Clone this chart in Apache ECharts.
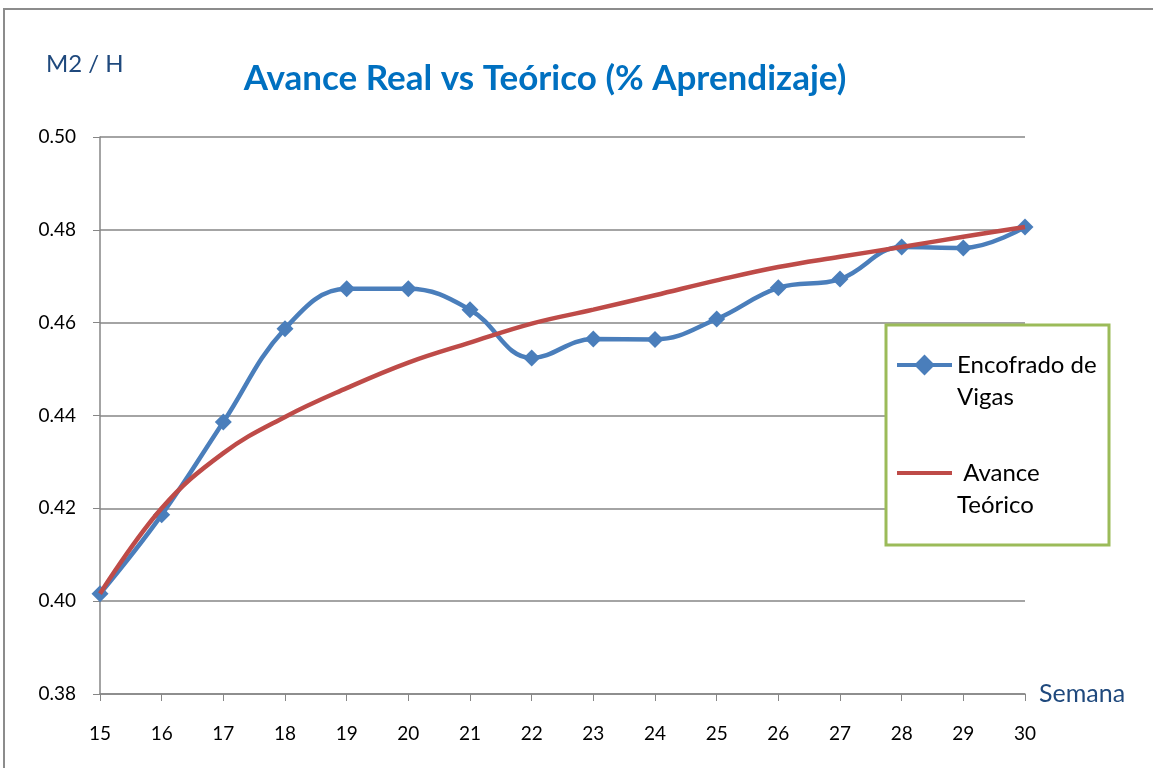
<!DOCTYPE html>
<html>
<head>
<meta charset="utf-8">
<script src="https://cdn.jsdelivr.net/npm/echarts@6/dist/echarts.min.js"></script>
<style>html,body{margin:0;padding:0;background:#fff;}#c{width:1153px;height:768px;}</style>
</head>
<body>
<div id="c"></div>
<script>
const weeks = ['15','16','17','18','19','20','21','22','23','24','25','26','27','28','29','30'];
const encofrado = [0.4016,0.4186,0.4386,0.4587,0.4673,0.4673,0.4628,0.4524,0.4565,0.4564,0.4608,0.4675,0.4694,0.4763,0.4761,0.4806];
const teorico = [0.4016,0.4200,0.4319,0.4397,0.4459,0.4514,0.4557,0.4598,0.4628,0.4659,0.4691,0.4720,0.4742,0.4763,0.4785,0.4806];
const yTicks = { min: 0.38, max: 0.50, step: 0.02 };
const titleText = 'Avance Real vs Teórico (% Aprendizaje)';
const yName = 'M2 / H';
const xName = 'Semana';
const seriesNames = ['Encofrado de Vigas', 'Avance Teórico'];
const legendLabels = ['Encofrado de\nVigas', ' Avance\nTeórico'];

const FONT = 'Lato';
const chart = echarts.init(document.getElementById('c'), null, { renderer: 'canvas' });
chart.setOption({
  backgroundColor: '#fff',
  animation: false,
  title: [
    { text: titleText, left: 540, top: 56, textAlign: 'center',
      textStyle: { fontFamily: FONT, fontSize: 35, fontWeight: 'bold', color: '#0070C0' } },
    { text: yName, left: 41, top: 47,
      textStyle: { fontFamily: FONT, fontSize: 24, fontWeight: 'normal', color: '#1F497D' } }
  ],
  graphic: [
    { type: 'rect', z: 0, shape: { x: 4, y: 9, width: 1200, height: 800 },
      style: { fill: 'none', stroke: '#8c8c8c', lineWidth: 2 } },
    { type: 'rect', z: 10, shape: { x: 886, y: 325, width: 223, height: 220 },
      style: { fill: '#fff', stroke: '#9BBB59', lineWidth: 3 } }
  ],
  grid: { left: 100, right: 128, top: 137, bottom: 74 },
  legend: {
    orient: 'vertical', left: 895, top: 317, z: 20, padding: 0,
    itemWidth: 55, itemHeight: 26, itemGap: 12,
    data: [
      { name: seriesNames[0] },
      { name: seriesNames[1], itemStyle: { opacity: 0 } }
    ],
    lineStyle: { width: 4 },
    formatter: function (n) { return ' \n' + legendLabels[seriesNames.indexOf(n)]; },
    textStyle: { fontFamily: FONT, fontSize: 24, color: '#000', lineHeight: 32 }
  },
  xAxis: {
    type: 'category', data: weeks, boundaryGap: false,
    name: xName, nameLocation: 'end', nameGap: 14,
    nameTextStyle: { fontFamily: FONT, fontSize: 25, color: '#1F497D', padding: [0, 0, 12, 0] },
    axisLine: { lineStyle: { color: '#868686', width: 1.5 } },
    axisTick: { show: true, length: 7, lineStyle: { color: '#868686' } },
    axisLabel: { fontFamily: FONT, fontSize: 19, color: '#000', margin: 30 },
    splitLine: { show: false }
  },
  yAxis: {
    type: 'value', min: yTicks.min, max: yTicks.max, interval: yTicks.step,
    axisLine: { show: true, lineStyle: { color: '#868686', width: 1.5 } },
    axisTick: { show: true, length: 7, lineStyle: { color: '#868686' } },
    axisLabel: { fontFamily: FONT, fontSize: 19, color: '#000', margin: 24,
      formatter: function (v) { return v.toFixed(2); } },
    splitLine: { show: true, lineStyle: { color: '#868686', width: 1.5 } }
  },
  series: [
    { name: seriesNames[0], type: 'line', data: encofrado, smooth: 0.4,
      symbol: 'diamond', symbolSize: 17, z: 3,
      lineStyle: { color: '#4A7EBB', width: 4.5 }, itemStyle: { color: '#4A7EBB' } },
    { name: seriesNames[1], type: 'line', data: teorico, smooth: 0.4,
      symbol: 'none', z: 4,
      lineStyle: { color: '#BE4B48', width: 4.5 }, itemStyle: { color: '#BE4B48' } }
  ]
});
</script>
</body>
</html>
